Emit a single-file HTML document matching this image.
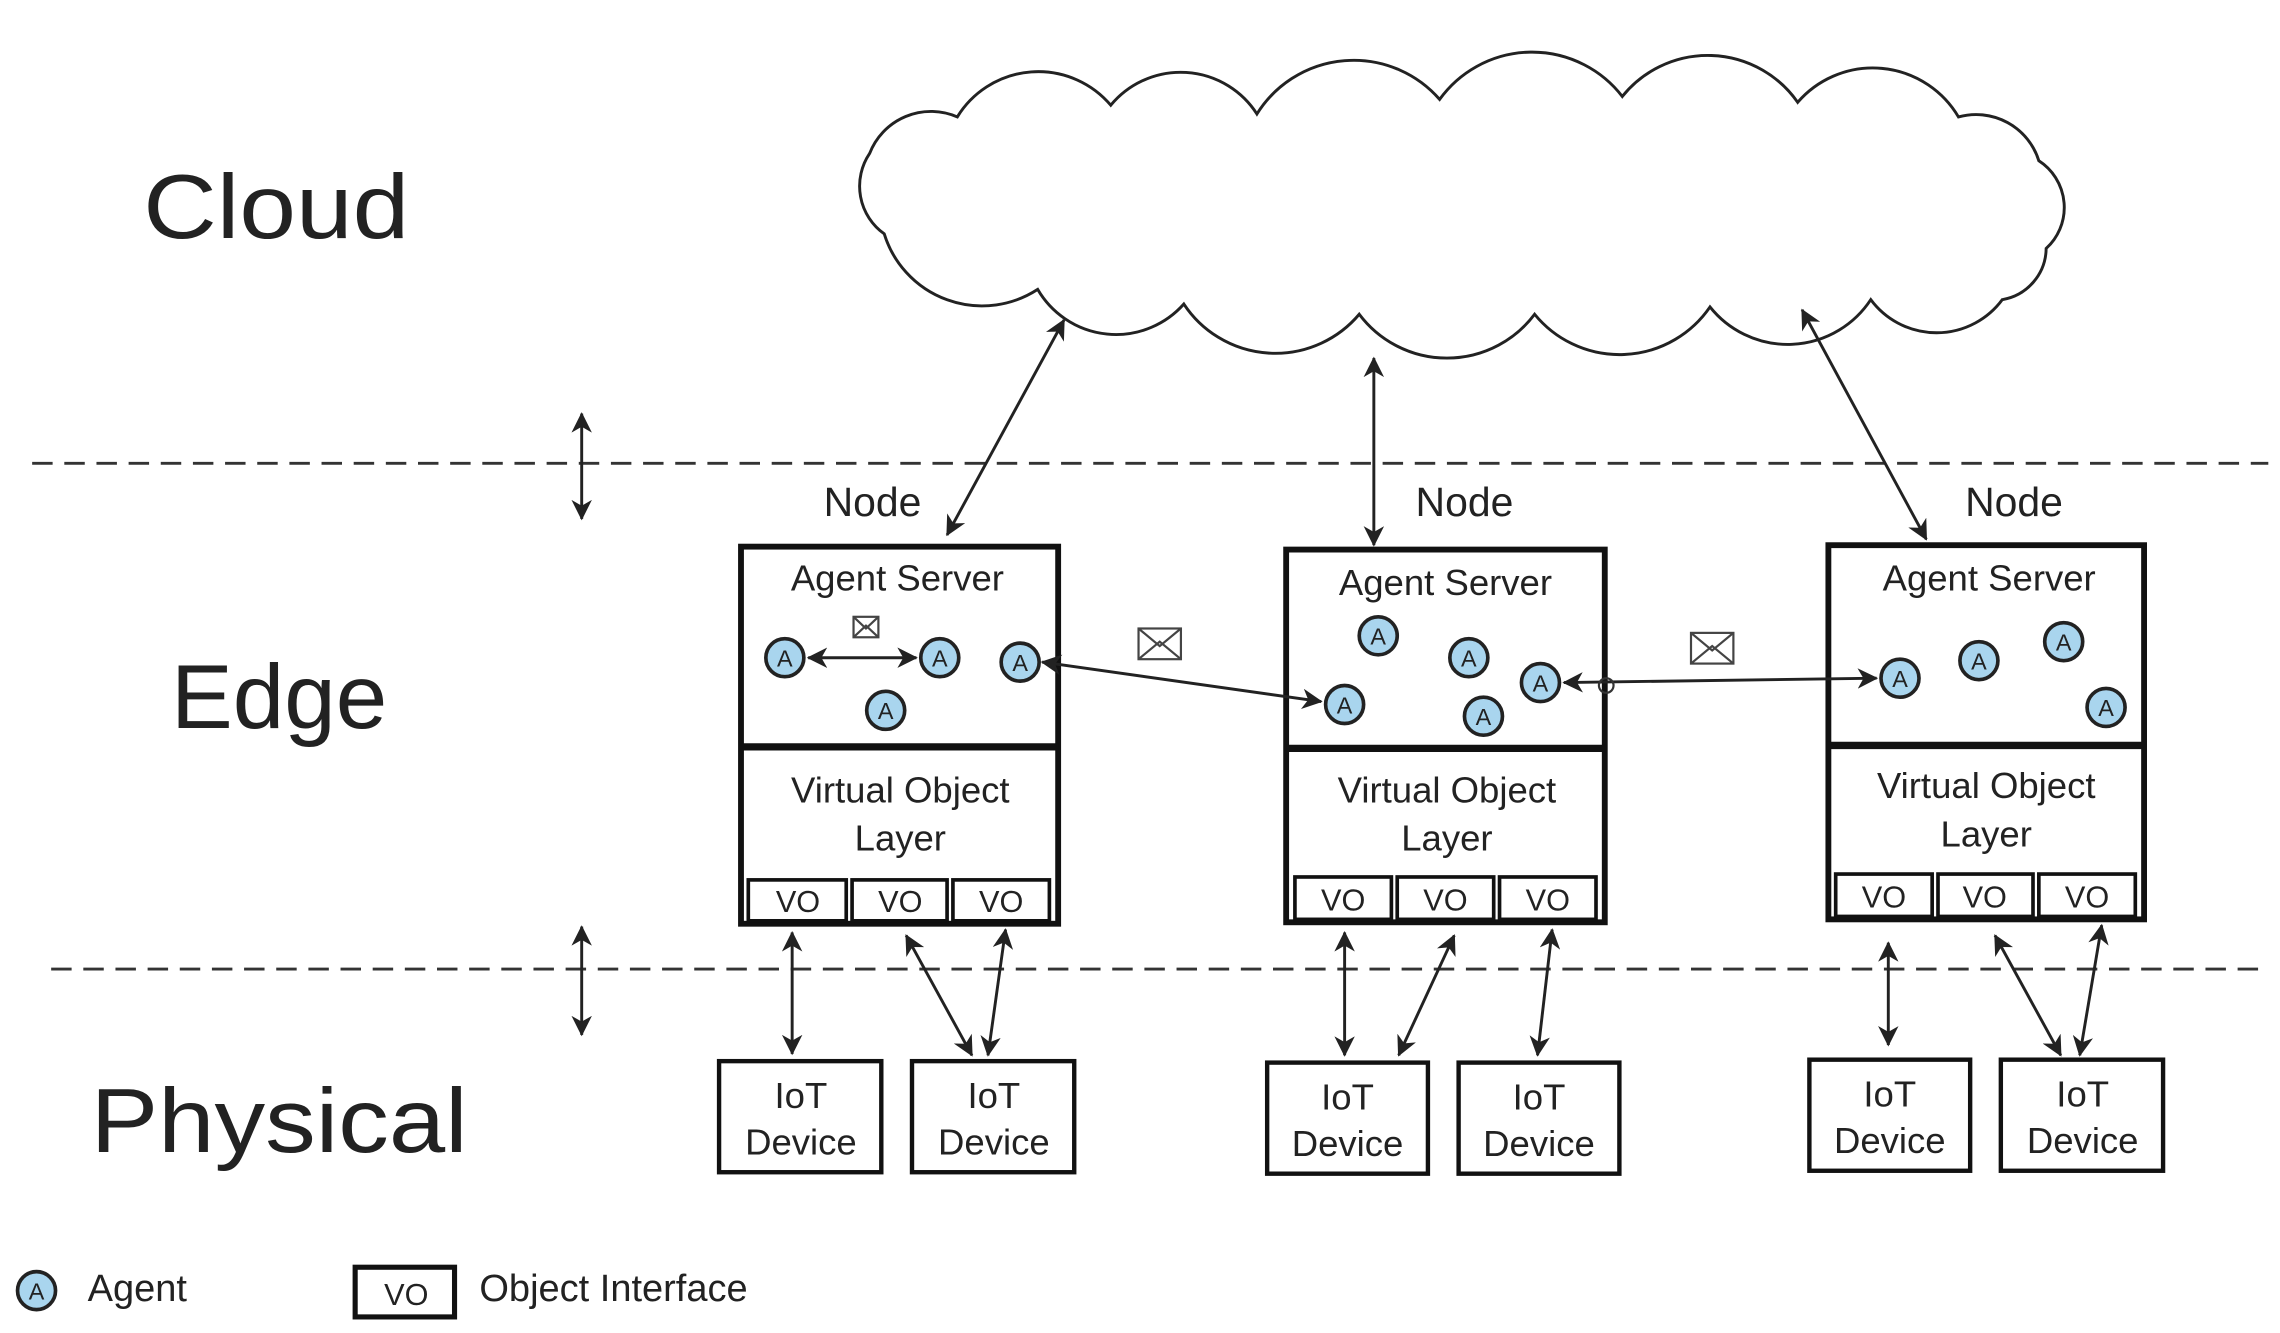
<!DOCTYPE html>
<html><head><meta charset="utf-8"><style>
html,body{margin:0;padding:0;background:#fff;}
svg{display:block;}
text{font-family:"Liberation Sans",sans-serif;fill:#222;}
</style></head><body>
<svg width="2280" height="1333" viewBox="0 0 1560 912" preserveAspectRatio="none" xmlns="http://www.w3.org/2000/svg">
<defs>
<marker id="ab" markerWidth="14" markerHeight="14" refX="13" refY="7" orient="auto-start-reverse" markerUnits="userSpaceOnUse">
<path d="M0,0 L14,7 L0,14 L4,7 Z" fill="#222"/>
</marker>
</defs>

<text x="98" y="163" font-size="62" textLength="182" lengthAdjust="spacingAndGlyphs">Cloud</text>
<text x="117" y="498" font-size="62" textLength="148" lengthAdjust="spacingAndGlyphs">Edge</text>
<text x="62" y="788" font-size="62" textLength="258" lengthAdjust="spacingAndGlyphs">Physical</text>

<line x1="22" y1="317" x2="1552" y2="317" stroke="#333" stroke-width="2" stroke-dasharray="14 8"/>
<line x1="35" y1="663" x2="1552" y2="663" stroke="#333" stroke-width="2" stroke-dasharray="14 8"/>

<line x1="398" y1="283" x2="398" y2="355" stroke="#222" stroke-width="2" marker-start="url(#ab)" marker-end="url(#ab)"/>
<line x1="398" y1="634" x2="398" y2="708" stroke="#222" stroke-width="2" marker-start="url(#ab)" marker-end="url(#ab)"/>

<path d="M 605 160 A 40 40 0 0 1 595 105 A 45 45 0 0 1 655 80 A 65 65 0 0 1 760 72 A 62 62 0 0 1 860 78 A 78 78 0 0 1 985 68 A 78 78 0 0 1 1110 66 A 75 75 0 0 1 1230 70 A 68 68 0 0 1 1340 80 A 45 45 0 0 1 1395 110 A 38 38 0 0 1 1400 170 A 36 36 0 0 1 1370 205 A 56 56 0 0 1 1280 205 A 68 68 0 0 1 1170 210 A 75 75 0 0 1 1050 215 A 75 75 0 0 1 930 215 A 75 75 0 0 1 810 208 A 62 62 0 0 1 710 198 A 70 70 0 0 1 605 160 Z" fill="#fff" stroke="#222" stroke-width="2"/>

<line x1="728" y1="219" x2="648" y2="366" stroke="#222" stroke-width="2" marker-start="url(#ab)" marker-end="url(#ab)"/>
<line x1="940" y1="245" x2="940" y2="373" stroke="#222" stroke-width="2" marker-start="url(#ab)" marker-end="url(#ab)"/>
<line x1="1233" y1="212" x2="1318" y2="369" stroke="#222" stroke-width="2" marker-start="url(#ab)" marker-end="url(#ab)"/>

<text x="597" y="353" font-size="28" text-anchor="middle">Node</text>
<text x="1002" y="353" font-size="28" text-anchor="middle">Node</text>
<text x="1378" y="353" font-size="28" text-anchor="middle">Node</text>

<g fill="#fff" stroke="#111" stroke-width="4">
<rect x="507" y="374" width="217" height="258"/>
<line x1="507" y1="511" x2="724" y2="511" stroke-width="5"/>
<rect x="880" y="376" width="218" height="255"/>
<line x1="880" y1="512" x2="1098" y2="512" stroke-width="5"/>
<rect x="1251" y="373" width="216" height="256"/>
<line x1="1251" y1="510" x2="1467" y2="510" stroke-width="5"/>
</g>
<g fill="#fff" stroke="#111" stroke-width="2.5">
<rect x="512" y="602" width="67" height="28"/><rect x="583" y="602" width="65" height="28"/><rect x="652" y="602" width="66" height="28"/>
<rect x="886" y="600" width="66" height="29"/><rect x="956" y="600" width="66" height="29"/><rect x="1026" y="600" width="66" height="29"/>
<rect x="1256" y="598" width="66" height="29"/><rect x="1326" y="598" width="65" height="29"/><rect x="1395" y="598" width="66" height="29"/>
</g>
<g font-size="21" text-anchor="middle">
<text x="546" y="624">VO</text><text x="616" y="624">VO</text><text x="685" y="624">VO</text>
<text x="919" y="623">VO</text><text x="989" y="623">VO</text><text x="1059" y="623">VO</text>
<text x="1289" y="621">VO</text><text x="1358" y="621">VO</text><text x="1428" y="621">VO</text>
</g>
<g font-size="25" text-anchor="middle">
<text x="614" y="404">Agent Server</text>
<text x="989" y="407">Agent Server</text>
<text x="1361" y="404">Agent Server</text>
<text x="616" y="549">Virtual Object</text><text x="616" y="582">Layer</text>
<text x="990" y="549">Virtual Object</text><text x="990" y="582">Layer</text>
<text x="1359" y="546">Virtual Object</text><text x="1359" y="579">Layer</text>
</g>

<line x1="553" y1="450" x2="627" y2="450" stroke="#222" stroke-width="2" marker-start="url(#ab)" marker-end="url(#ab)"/>
<line x1="713" y1="453" x2="904" y2="480" stroke="#222" stroke-width="2" marker-start="url(#ab)" marker-end="url(#ab)"/>
<line x1="1070" y1="467" x2="1284" y2="464" stroke="#222" stroke-width="2" marker-start="url(#ab)" marker-end="url(#ab)"/>
<circle cx="1099" cy="469" r="5" fill="none" stroke="#333" stroke-width="1.5"/>

<g fill="#fff" stroke="#444" stroke-width="1.5">
<rect x="584" y="422" width="17" height="14"/><path d="M584,422 L592.5,430 L601,422 M584,436 L592.5,428 L601,436" fill="none"/>
<rect x="779" y="430" width="29" height="21"/><path d="M779,430 L793.5,442 L808,430 M779,451 L793.5,439 L808,451" fill="none"/>
<rect x="1157" y="433" width="29" height="21"/><path d="M1157,433 L1171.5,445 L1186,433 M1157,454 L1171.5,442 L1186,454" fill="none"/>
</g>

<g fill="#a9d5ee" stroke="#222" stroke-width="2.5">
<circle cx="537" cy="450" r="13"/><circle cx="643" cy="450" r="13"/><circle cx="698" cy="453" r="13"/><circle cx="606" cy="486" r="13"/>
<circle cx="943" cy="435" r="13"/><circle cx="1005" cy="450" r="13"/><circle cx="1054" cy="467" r="13"/><circle cx="920" cy="482" r="13"/><circle cx="1015" cy="490" r="13"/>
<circle cx="1300" cy="464" r="13"/><circle cx="1354" cy="452" r="13"/><circle cx="1412" cy="439" r="13"/><circle cx="1441" cy="484" r="13"/>
<circle cx="25" cy="883" r="13"/>
</g>
<g font-size="16" text-anchor="middle">
<text x="537" y="456">A</text><text x="643" y="456">A</text><text x="698" y="459">A</text><text x="606" y="492">A</text>
<text x="943" y="441">A</text><text x="1005" y="456">A</text><text x="1054" y="473">A</text><text x="920" y="488">A</text><text x="1015" y="496">A</text>
<text x="1300" y="470">A</text><text x="1354" y="458">A</text><text x="1412" y="445">A</text><text x="1441" y="490">A</text>
<text x="25" y="889">A</text>
</g>

<g fill="#fff" stroke="#111" stroke-width="3">
<rect x="492" y="726" width="111" height="76"/><rect x="624" y="726" width="111" height="76"/>
<rect x="867" y="727" width="110" height="76"/><rect x="998" y="727" width="110" height="76"/>
<rect x="1238" y="725" width="110" height="76"/><rect x="1369" y="725" width="111" height="76"/>
</g>
<g font-size="25" text-anchor="middle">
<text x="548" y="758">IoT</text><text x="548" y="790">Device</text>
<text x="680" y="758">IoT</text><text x="680" y="790">Device</text>
<text x="922" y="759">IoT</text><text x="922" y="791">Device</text>
<text x="1053" y="759">IoT</text><text x="1053" y="791">Device</text>
<text x="1293" y="757">IoT</text><text x="1293" y="789">Device</text>
<text x="1425" y="757">IoT</text><text x="1425" y="789">Device</text>
</g>

<g stroke="#222" stroke-width="2">
<line x1="542" y1="638" x2="542" y2="721" marker-start="url(#ab)" marker-end="url(#ab)"/>
<line x1="620" y1="640" x2="665" y2="722" marker-start="url(#ab)" marker-end="url(#ab)"/>
<line x1="688" y1="636" x2="676" y2="722" marker-start="url(#ab)" marker-end="url(#ab)"/>
<line x1="920" y1="638" x2="920" y2="722" marker-start="url(#ab)" marker-end="url(#ab)"/>
<line x1="995" y1="640" x2="957" y2="722" marker-start="url(#ab)" marker-end="url(#ab)"/>
<line x1="1062" y1="636" x2="1052" y2="722" marker-start="url(#ab)" marker-end="url(#ab)"/>
<line x1="1292" y1="645" x2="1292" y2="715" marker-start="url(#ab)" marker-end="url(#ab)"/>
<line x1="1365" y1="640" x2="1410" y2="722" marker-start="url(#ab)" marker-end="url(#ab)"/>
<line x1="1438" y1="633" x2="1423" y2="722" marker-start="url(#ab)" marker-end="url(#ab)"/>
</g>

<text x="60" y="890" font-size="26">Agent</text>
<rect x="243" y="867" width="68" height="34" fill="#fff" stroke="#111" stroke-width="3.5"/>
<text x="278" y="893" font-size="21" text-anchor="middle">VO</text>
<text x="328" y="890" font-size="26">Object Interface</text>
</svg>
</body></html>
